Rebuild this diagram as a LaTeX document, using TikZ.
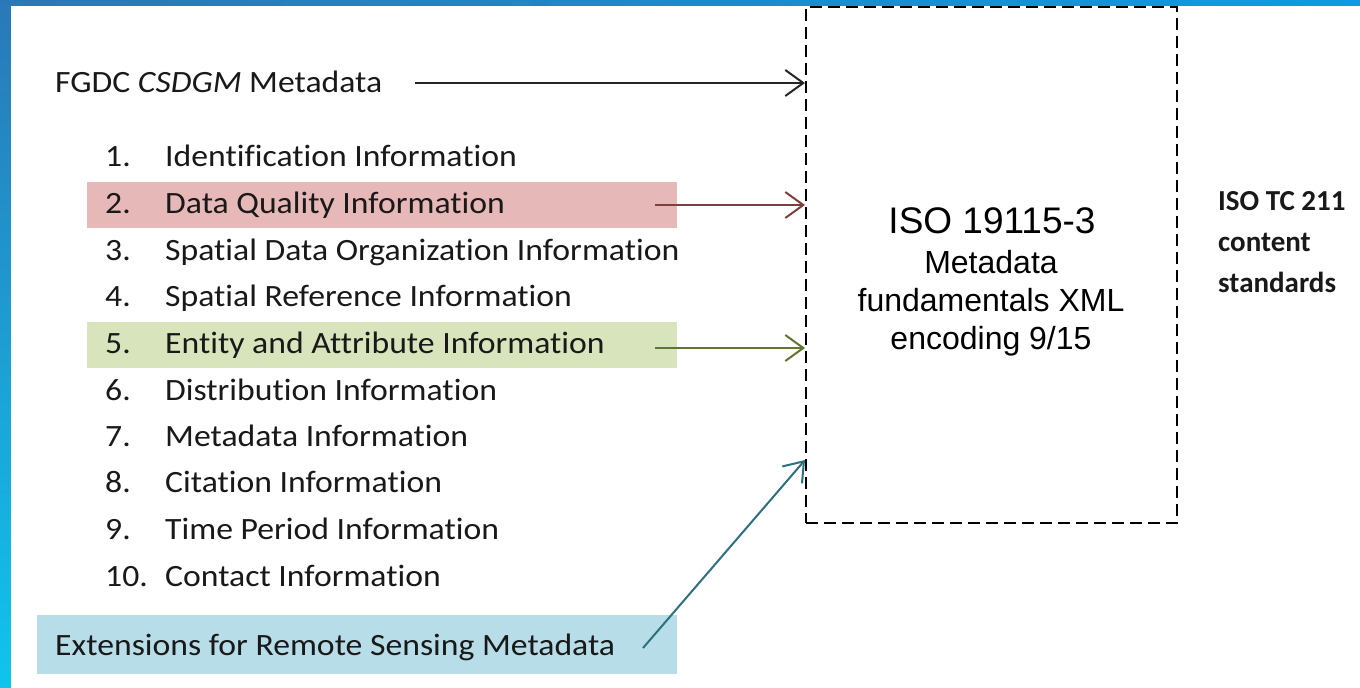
\documentclass[tikz,border=0pt]{standalone}
\usepackage{fontspec}
\setmainfont{Carlito}[FakeStretch=1.087,Ligatures=NoCommon]
\newfontfamily\sidefont{Carlito}[Ligatures=NoCommon]
\newfontfamily\arialf{Liberation Sans}
\usetikzlibrary{arrows.meta}
\definecolor{redbar}{HTML}{E6B8B7}
\definecolor{greenbar}{HTML}{D7E4BC}
\definecolor{bluebar}{HTML}{B7DDE8}
\definecolor{redarr}{HTML}{7F3F3F}
\definecolor{greenarr}{HTML}{5F7530}
\definecolor{bluearr}{HTML}{2E6F80}
\definecolor{frameA}{HTML}{2A78B8}
\definecolor{frameB}{HTML}{10C4EE}
\definecolor{frameC}{HTML}{0A9CE4}
\begin{document}
\begin{tikzpicture}[x=1pt,y=-1pt,
  txt/.style={anchor=base west,inner sep=0pt,font=\fontsize{31}{31}\selectfont,text=black!90},
  bar/.style={draw=none,inner sep=0pt,anchor=north west},
  conn/.style={line width=2pt,-{Straight Barb[length=18pt,width=26pt,line width=2pt]}},
  side/.style={anchor=base west,inner sep=0pt,font=\sidefont\fontsize{29}{29}\selectfont\bfseries,text=black!90},
  isotxt/.style={anchor=base,inner sep=0pt,font=\arialf\fontsize{32}{32}\selectfont,text=black}]
\useasboundingbox (0,0) rectangle (1360,688);
\shade[left color=frameA,right color=frameC] (0,0) rectangle (1360,6);
\shade[top color=frameA,bottom color=frameB] (0,0) rectangle (11,688);
\fill[white] (11,6) rectangle (1360,688);
% bars
\node[bar,fill=redbar,minimum width=590pt,minimum height=46pt] (rbar) at (87,182) {};
\node[bar,fill=greenbar,minimum width=590pt,minimum height=46pt] (gbar) at (87,322) {};
\node[bar,fill=bluebar,minimum width=640pt,minimum height=59pt] (bbar) at (37,615) {};
% dashed box
\node[draw,dashed,line width=2pt,dash pattern=on 12pt off 6pt,anchor=north west,minimum width=371pt,minimum height=516pt,inner sep=0pt] (iso) at (805,6) {};
% header
\node[txt] (fgdc) at (55,92) {FGDC \textit{CSDGM} Metadata};
% list
\foreach \n/\t/\y in {1/Identification Information/166,
  2/Data Quality Information/213,
  3/Spatial Data Organization Information/260,
  4/Spatial Reference Information/306,
  5/Entity and Attribute Information/353,
  6/Distribution Information/400,
  7/Metadata Information/446,
  8/Citation Information/492,
  9/Time Period Information/539,
  10/Contact Information/586}{
  \node[txt] (n\n) at (105,\y) {\n.};
  \node[txt] (t\n) at (165,\y) {\t};
}
\node[txt] (ext) at (55,655) {Extensions for Remote Sensing Metadata};
% ISO text
\node[isotxt,font=\arialf\fontsize{37}{37}\selectfont] (iso1) at (992,233) {ISO 19115-3};
\node[isotxt] (iso2) at (991,273) {Metadata};
\node[isotxt] (iso3) at (991,311) {fundamentals XML};
\node[isotxt] (iso4) at (991,349) {encoding 9/15};
% side text
\node[side] (s1) at (1218,210) {ISO TC 211};
\node[side] (s2) at (1218,251) {content};
\node[side] (s3) at (1218,292) {standards};
% connectors
\coordinate (a0) at (415,83);
\coordinate (a1) at (655,205);
\coordinate (a2) at (655,348);
\coordinate (a3) at (643,648);
\coordinate (b3) at (805,460);
\draw[conn,black!85] (a0) -- (a0 -| iso.west);
\draw[conn,redarr] (a1) -- (a1 -| iso.west);
\draw[conn,greenarr] (a2) -- (a2 -| iso.west);
\draw[conn,bluearr] (a3) -- (b3);
\end{tikzpicture}
\end{document}
